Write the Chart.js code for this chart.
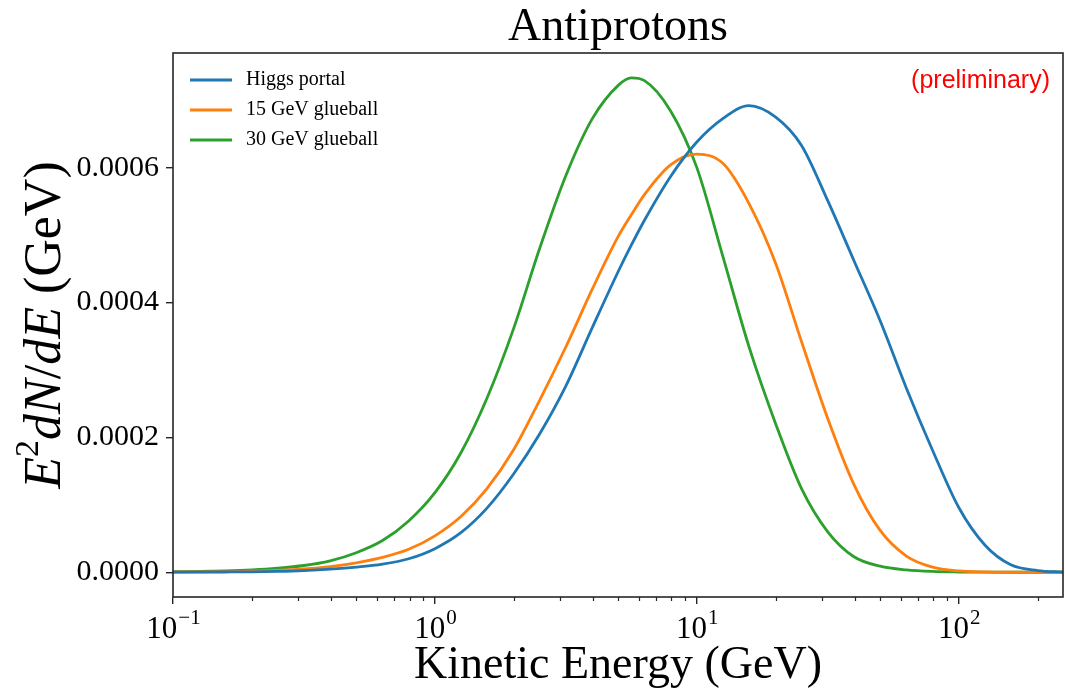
<!DOCTYPE html>
<html>
<head>
<meta charset="utf-8">
<script src="https://cdn.jsdelivr.net/npm/chart.js@4/dist/chart.umd.min.js"></script>
<style>
  html, body { margin: 0; padding: 0; background: #fff; }
  #wrap { width: 1065px; height: 698px; position: relative; }
</style>
</head>
<body>
<div id="wrap"><canvas id="grafico"></canvas></div>
<script>
// kinetic energy (GeV), log spaced
const energias = [0.1, 0.126, 0.158, 0.2, 0.251, 0.316, 0.398, 0.501, 0.631, 0.794,
  1.0, 1.26, 1.58, 2.0, 2.51, 3.16, 3.98, 5.01, 5.62, 6.31, 7.94,
  10.0, 12.6, 15.8, 20.0, 25.1, 31.6, 39.8, 50.1, 63.1, 79.4,
  100, 126, 158, 200, 250];

const higgsPortal = [0.0000001, 0.0000002, 0.0000004, 0.0000007, 0.0000013, 0.0000025, 0.0000045, 0.0000075, 0.000012, 0.00002,
  0.000035, 0.000059, 0.000095, 0.000146, 0.000205, 0.000276, 0.000362, 0.000446, 0.000485, 0.000522, 0.000587,
  0.000638, 0.000673, 0.000692, 0.000675, 0.000633, 0.000551, 0.000462, 0.000373, 0.000273, 0.000181,
  0.000096, 0.00004, 0.000011, 0.0000025, 0.0000003];

const glueball15 = [0.0000003, 0.0000005, 0.0000009, 0.0000015, 0.0000028, 0.000005, 0.0000085, 0.000014, 0.000022, 0.000034,
  0.000054, 0.000083, 0.000124, 0.000182, 0.000255, 0.000334, 0.000419, 0.000498, 0.00053, 0.00056, 0.000604,
  0.00062, 0.000606, 0.000547, 0.000458, 0.000342, 0.000228, 0.00013, 0.000062, 0.000024, 0.0000075,
  0.000002, 0.0000005, 0.0000001, 0, 0];

const glueball30 = [0.0000008, 0.0000012, 0.000002, 0.0000035, 0.000006, 0.00001, 0.000017, 0.000029, 0.000047, 0.000076,
  0.000118, 0.000178, 0.000258, 0.000362, 0.00048, 0.000588, 0.000672, 0.000722, 0.000733, 0.000729, 0.000684,
  0.0006, 0.000467, 0.000335, 0.00022, 0.000124, 0.00006, 0.000023, 0.000009, 0.0000035, 0.0000012,
  0.0000004, 0.0000001, 0, 0, 0];

const nomesSeries = ["Higgs portal", "15 GeV glueball", "30 GeV glueball"];
const coresSeries = ["#1f77b4", "#ff7f0e", "#2ca02c"];

const ticksX = [0.1, 1, 10, 100];
const expoentesX = ["\u22121", "0", "1", "2"];
const ticksY = [0, 0.0002, 0.0004, 0.0006];

const SERIF = "'Liberation Serif', 'DejaVu Serif', serif";
const COR_EIXO = "#262626";

function serie(valores) {
  return energias.map((e, i) => ({ x: e, y: valores[i] }));
}

const decoracao = {
  id: "decoracao",
  afterDraw(chart) {
    const { ctx, chartArea: a, scales } = chart;
    const x = scales.x;
    ctx.save();

    // moldura
    ctx.strokeStyle = COR_EIXO;
    ctx.lineWidth = 1.6;
    ctx.strokeRect(a.left, a.top, a.right - a.left, a.bottom - a.top);

    // ticks menores do eixo log
    ctx.lineWidth = 1.2;
    ctx.beginPath();
    for (let d = -1; d <= 2; d++) {
      for (let m = 2; m <= 9; m++) {
        const v = m * Math.pow(10, d);
        if (v > x.max) continue;
        const px = Math.round(x.getPixelForValue(v)) + 0.5;
        ctx.moveTo(px, a.bottom);
        ctx.lineTo(px, a.bottom + 4);
      }
    }
    ctx.stroke();

    // rotulos do eixo x: 10 com expoente
    ctx.fillStyle = "#000";
    ctx.textBaseline = "alphabetic";
    ctx.textAlign = "left";
    ticksX.forEach((v, i) => {
      const px = x.getPixelForValue(v);
      ctx.font = "31px " + SERIF;
      const wBase = ctx.measureText("10").width;
      ctx.font = "21px " + SERIF;
      const wExp = ctx.measureText(expoentesX[i]).width;
      const inicio = px - (wBase + wExp) / 2;
      ctx.font = "31px " + SERIF;
      ctx.fillText("10", inicio, 638);
      ctx.font = "21px " + SERIF;
      ctx.fillText(expoentesX[i], inicio + wBase + 1, 624);
    });

    // titulo
    ctx.font = "46px " + SERIF;
    ctx.textAlign = "center";
    ctx.textBaseline = "middle";
    ctx.fillText("Antiprotons", (a.left + a.right) / 2, 28);

    // titulo do eixo y
    const partes = [
      { t: "E", f: "italic 52px " + SERIF, dy: 0 },
      { t: "2", f: "34px " + SERIF, dy: -17 },
      { t: "dN", f: "italic 52px " + SERIF, dy: 0 },
      { t: "/", f: "52px " + SERIF, dy: 0 },
      { t: "dE", f: "italic 52px " + SERIF, dy: 0 },
      { t: " (GeV)", f: "52px " + SERIF, dy: 0 }
    ];
    let total = 0;
    partes.forEach(p => { ctx.font = p.f; p.w = ctx.measureText(p.t).width; total += p.w; });
    ctx.translate(46, (a.top + a.bottom) / 2);
    ctx.rotate(-Math.PI / 2);
    ctx.textAlign = "left";
    ctx.textBaseline = "middle";
    let cx = -total / 2;
    partes.forEach(p => { ctx.font = p.f; ctx.fillText(p.t, cx, p.dy); cx += p.w; });
    ctx.setTransform(1, 0, 0, 1, 0, 0);

    // legenda
    ctx.font = "20px " + SERIF;
    ctx.textAlign = "left";
    chart.data.datasets.forEach((ds, i) => {
      const ly = 80 + i * 30;
      ctx.strokeStyle = ds.borderColor;
      ctx.lineWidth = 2.8;
      ctx.beginPath();
      ctx.moveTo(190, ly);
      ctx.lineTo(232, ly);
      ctx.stroke();
      ctx.fillStyle = "#000";
      ctx.fillText(ds.label, 246, ly);
    });

    // preliminar
    ctx.font = "25px 'Liberation Sans', 'Open Sans', sans-serif";
    ctx.fillStyle = "#ff0000";
    ctx.textAlign = "right";
    ctx.fillText("(preliminary)", 1050, 81);

    ctx.restore();
  }
};

new Chart(document.getElementById("grafico"), {
  type: "line",
  data: {
    datasets: [
      { label: nomesSeries[0], data: serie(higgsPortal), borderColor: coresSeries[0] },
      { label: nomesSeries[1], data: serie(glueball15), borderColor: coresSeries[1] },
      { label: nomesSeries[2], data: serie(glueball30), borderColor: coresSeries[2] }
    ].map(ds => ({ ...ds, borderWidth: 2.8, pointRadius: 0, fill: false, cubicInterpolationMode: "monotone" }))
  },
  options: {
    responsive: true,
    maintainAspectRatio: false,
    animation: false,
    layout: { padding: { top: 53, right: 2, left: 0, bottom: 0 } },
    plugins: {
      legend: { display: false },
      title: { display: false },
      tooltip: { enabled: false }
    },
    scales: {
      x: {
        type: "logarithmic",
        min: 0.1,
        max: 250,
        afterBuildTicks: axis => { axis.ticks = ticksX.map(v => ({ value: v })); },
        afterFit: axis => { axis.height = 101; },
        grid: { display: true, drawOnChartArea: false, drawTicks: true, tickLength: 7, color: COR_EIXO, lineWidth: 1.4 },
        border: { display: false },
        ticks: { display: false },
        title: {
          display: true,
          text: "Kinetic Energy (GeV)",
          color: "#000",
          font: { family: SERIF, size: 46 },
          padding: { top: 0, bottom: 4 }
        }
      },
      y: {
        type: "linear",
        min: -0.0000367,
        max: 0.00077,
        afterBuildTicks: axis => { axis.ticks = ticksY.map(v => ({ value: v })); },
        afterFit: axis => { axis.width = 173; },
        grid: { display: true, drawOnChartArea: false, drawTicks: true, tickLength: 7, color: COR_EIXO, lineWidth: 1.4 },
        border: { display: false },
        ticks: {
          padding: 7,
          color: "#000",
          font: { family: SERIF, size: 30 },
          callback: valor => valor.toFixed(4)
        }
      }
    }
  },
  plugins: [decoracao]
});
</script>
</body>
</html>
